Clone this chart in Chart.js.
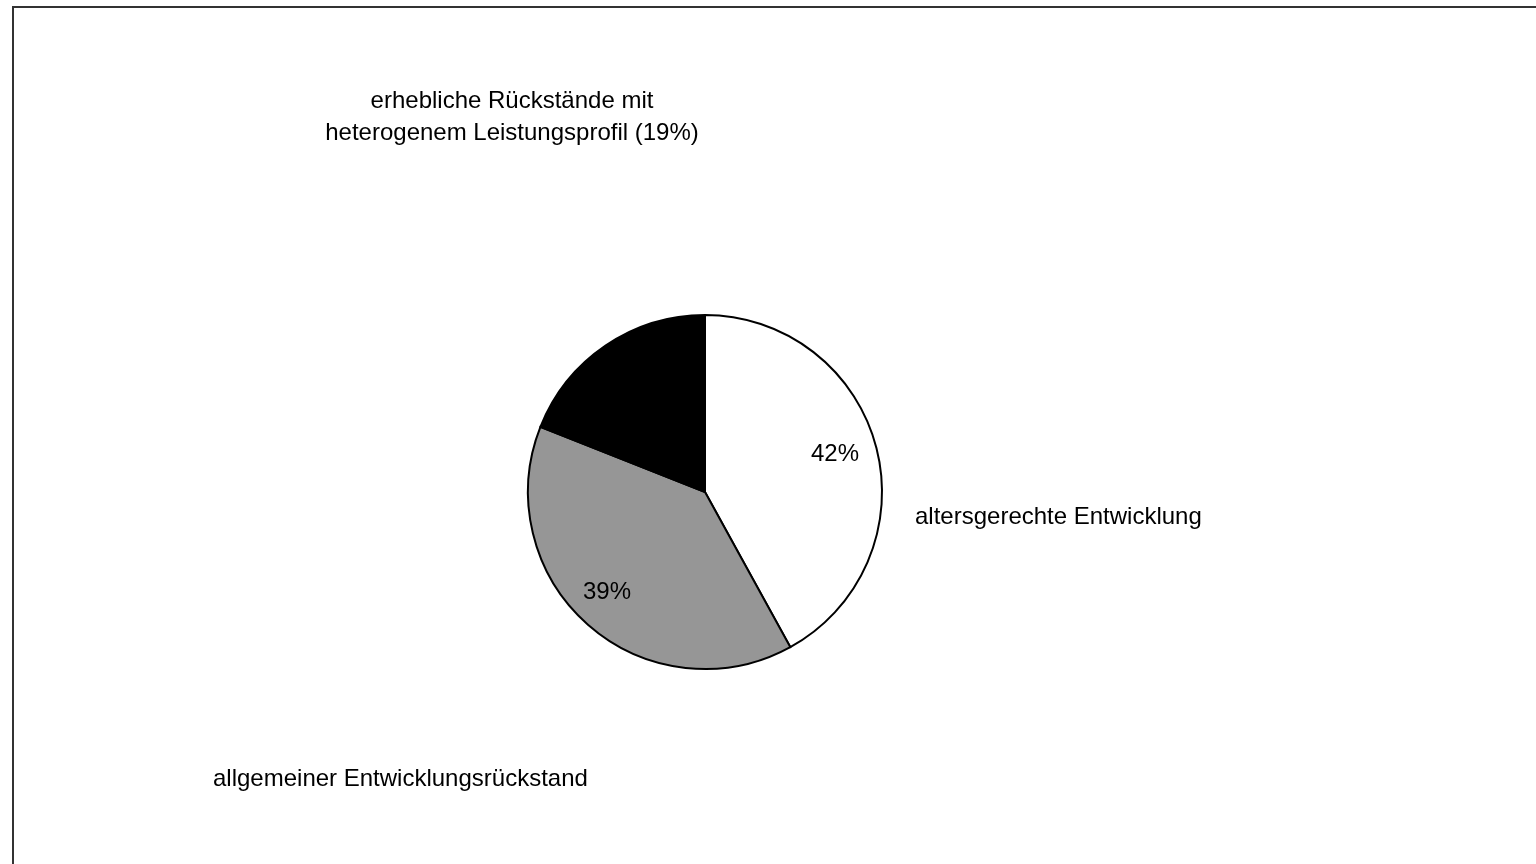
<!DOCTYPE html>
<html><head><meta charset="utf-8">
<script src="https://cdn.jsdelivr.net/npm/chart.js@4/dist/chart.umd.min.js"></script>
<style>
html,body{margin:0;padding:0;background:#fff;overflow:hidden;}
#wrap{position:absolute;left:0;top:0;width:1536px;height:864px;}
#frame{position:absolute;left:12px;top:6px;width:1600px;height:900px;border-left:2px solid #333;border-top:2px solid #333;box-sizing:border-box;}
</style></head><body>
<div id="wrap"><canvas id="c" width="1536" height="864"></canvas></div>
<div id="frame"></div>
<script>
const categories = ["altersgerechte Entwicklung", "allgemeiner Entwicklungsrückstand", "erhebliche Rückstände mit heterogenem Leistungsprofil (19%)"];
const values = [42, 39, 19];
const percentLabels = ["42%", "39%", ""];
const outerLabelLines = [["altersgerechte Entwicklung"], ["allgemeiner Entwicklungsrückstand"], ["erhebliche Rückstände mit", "heterogenem Leistungsprofil (19%)"]];
const colors = ["#ffffff", "#969696", "#000000"];

// label placement (offsets from pie centre, in pixels) and alignment
const innerPos = [[130, -38], [-98, 100], null];
const outerPos = [[210, 25, "left"], [-492, 287, "left"], [-193, -391, "center"]];

const FONT = '24px "Liberation Sans", Arial, sans-serif';

const labelPlugin = {
  id: 'labels',
  afterDraw(chart) {
    const ctx = chart.ctx;
    const arc = chart.getDatasetMeta(0).data[0];
    const cx = arc.x, cy = arc.y;
    ctx.save();
    ctx.font = FONT;
    ctx.fillStyle = '#000';
    ctx.textBaseline = 'middle';
    percentLabels.forEach((t, i) => {
      if (!t || !innerPos[i]) return;
      ctx.textAlign = 'center';
      ctx.fillText(t, cx + innerPos[i][0], cy + innerPos[i][1]);
    });
    outerLabelLines.forEach((lines, i) => {
      const p = outerPos[i];
      ctx.textAlign = p[2];
      lines.forEach((ln, j) => {
        ctx.fillText(ln, cx + p[0], cy + p[1] + j * 32);
      });
    });
    ctx.restore();
  }
};

new Chart(document.getElementById('c'), {
  type: 'pie',
  data: {
    labels: categories,
    datasets: [{
      data: values,
      backgroundColor: colors,
      borderColor: '#000',
      borderWidth: 2,
      borderJoinStyle: 'miter'
    }]
  },
  options: {
    responsive: false,
    animation: false,
    layout: { padding: { left: 527, right: 653, top: 314, bottom: 194 } },
    plugins: { legend: { display: false }, tooltip: { enabled: false } }
  },
  plugins: [labelPlugin]
});
</script>
</body></html>
